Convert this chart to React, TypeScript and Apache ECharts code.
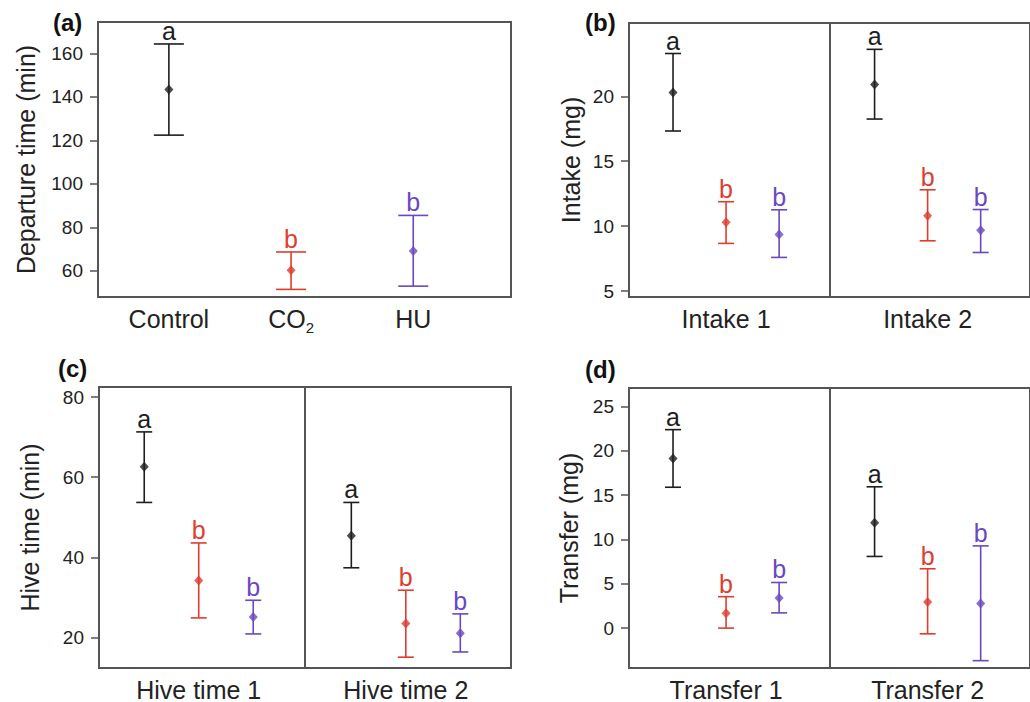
import React, { useEffect, useRef } from "react";
import * as echarts from "echarts";

// ---------- data ----------
const treatments = ["Control", "CO2", "HU"];
const treatmentColors = ["#1e1e1e", "#e03c2e", "#6a47c2"];

// (a) Departure time
const departCats = ["Control", "CO2", "HU"];
const departMean = [143.4, 60.3, 69.1];
const departLow = [122.4, 51.5, 53.0];
const departHigh = [164.3, 68.7, 85.5];
const departLetters = ["a", "b", "b"];
const departTicks = [60, 80, 100, 120, 140, 160];

// (b) Intake (Control, CO2, HU) x (Intake 1, Intake 2)
const intakeGroups = ["Intake 1", "Intake 2"];
const intakeMean = [20.3, 10.29, 9.36, 20.92, 10.8, 9.69];
const intakeLow = [17.33, 8.67, 7.59, 18.25, 8.87, 7.97];
const intakeHigh = [23.3, 11.88, 11.26, 23.62, 12.8, 11.28];
const intakeLetters = ["a", "b", "b", "a", "b", "b"];
const intakeTicks = [5, 10, 15, 20];

// (c) Hive time
const hiveGroups = ["Hive time 1", "Hive time 2"];
const hiveMean = [62.6, 34.2, 25.1, 45.4, 23.5, 21.1];
const hiveLow = [53.7, 24.9, 20.9, 37.4, 15.1, 16.4];
const hiveHigh = [71.3, 43.6, 29.3, 53.7, 31.8, 25.9];
const hiveLetters = ["a", "b", "b", "a", "b", "b"];
const hiveTicks = [20, 40, 60, 80];

// (d) Transfer
const transferGroups = ["Transfer 1", "Transfer 2"];
const transferMean = [19.15, 1.69, 3.4, 11.9, 2.96, 2.77];
const transferLow = [15.9, 0, 1.72, 8.09, -0.64, -3.67];
const transferHigh = [22.4, 3.55, 5.15, 15.95, 6.7, 9.28];
const transferLetters = ["a", "b", "b", "a", "b", "b"];
const transferTicks = [0, 5, 10, 15, 20, 25];

// category slot positions on the x scale
const slotsA = [1, 2, 3];
const slotsPaired = [1, 2, 3, 4.8, 5.8, 6.8];
const groupCenters = [2, 5.8];
const dividerX = 3.95;

const FONT = "'Liberation Sans', Arial, Helvetica, sans-serif";
const BORDER = "#555555";

function buildPanel(
  idx: number,
  slots: number[],
  mean: number[],
  low: number[],
  high: number[],
  letters: string[],
  capHalf: number,
  divider: boolean
) {
  const colorOf = (i: number) => treatmentColors[i % 3];
  const errData = slots.map((x, i) => [x, low[i], high[i], i % 3]);
  const meanData = slots.map((x, i) => ({
    value: [x, mean[i]],
    itemStyle: { color: colorOf(i) },
  }));
  const series: any[] = [
    {
      type: "custom",
      xAxisIndex: idx,
      yAxisIndex: idx,
      data: errData,
      silent: true,
      clip: false,
      renderItem: (params: any, api: any) => {
        const x = api.value(0);
        const pLo = api.coord([x, api.value(1)]);
        const pHi = api.coord([x, api.value(2)]);
        const color = treatmentColors[api.value(3)];
        const st = { stroke: color, lineWidth: 1.6 };
        return {
          type: "group",
          children: [
            { type: "line", shape: { x1: pLo[0], y1: pLo[1], x2: pHi[0], y2: pHi[1] }, style: st },
            { type: "line", shape: { x1: pHi[0] - capHalf, y1: pHi[1], x2: pHi[0] + capHalf, y2: pHi[1] }, style: st },
            { type: "line", shape: { x1: pLo[0] - capHalf, y1: pLo[1], x2: pLo[0] + capHalf, y2: pLo[1] }, style: st },
            {
              type: "text",
              x: pHi[0],
              y: pHi[1] - 0.5,
              style: {
                text: letters[params.dataIndex],
                fill: color,
                fontSize: 25,
                fontFamily: FONT,
                align: "center",
                verticalAlign: "bottom",
              },
            },
          ],
        };
      },
    },
    {
      type: "scatter",
      xAxisIndex: idx,
      yAxisIndex: idx,
      symbol: "diamond",
      symbolSize: [9, 10],
      silent: true,
      data: meanData,
      markLine: divider
        ? {
            silent: true,
            symbol: "none",
            label: { show: false },
            lineStyle: { color: BORDER, width: 2, type: "solid" },
            data: [{ xAxis: dividerX }],
          }
        : undefined,
    },
  ];
  return series;
}

function yAxisFor(idx: number, min: number, max: number, ticks: number[], name: string, gap: number) {
  return {
    type: "value",
    gridIndex: idx,
    min,
    max,
    name,
    nameLocation: "middle",
    nameGap: gap,
    nameTextStyle: { fontSize: 25, color: "#222", fontFamily: FONT },
    axisLine: { show: false },
    splitLine: { show: false },
    axisTick: { show: true, length: 8, customValues: ticks, lineStyle: { color: BORDER, width: 1.5 } },
    axisLabel: { customValues: ticks, fontSize: 19, color: "#222", fontFamily: FONT, margin: 15 },
  };
}

function xAxisFor(idx: number, min: number, max: number, values: number[], names: string[]) {
  return {
    type: "value",
    gridIndex: idx,
    min,
    max,
    axisLine: { show: false },
    axisTick: { show: false },
    splitLine: { show: false },
    axisLabel: {
      customValues: values,
      fontSize: 25,
      color: "#222",
      fontFamily: FONT,
      margin: 9,
      formatter: (v: number) => {
        const i = values.findIndex((p) => Math.abs(p - v) < 1e-6);
        const n = names[i] ?? "";
        if (n === "CO2") return "{n|CO}{s|2}";
        return n;
      },
      rich: {
        n: { fontSize: 25, color: "#222", fontFamily: FONT, verticalAlign: "top", lineHeight: 25 },
        s: { fontSize: 15, color: "#222", fontFamily: FONT, verticalAlign: "top", padding: [14, 0, 0, 0] },
      },
    },
  };
}

const gridBase = { show: true, borderColor: BORDER, borderWidth: 2, backgroundColor: "transparent" };

export default function App() {
  const ref = useRef<HTMLDivElement>(null);
  useEffect(() => {
    if (!ref.current) return;
    const chart = echarts.init(ref.current, undefined, { renderer: "svg" });
    const option: any = {
      animation: false,
      backgroundColor: "#ffffff",
      textStyle: { fontFamily: FONT },
      grid: [
        { ...gridBase, left: 98, top: 22, width: 413, height: 275 },
        { ...gridBase, left: 629, top: 23, width: 413, height: 274 },
        { ...gridBase, left: 99, top: 387, width: 412, height: 283 },
        { ...gridBase, left: 629, top: 388, width: 413, height: 281 },
      ],
      xAxis: [
        xAxisFor(0, 0.42, 3.8, slotsA, departCats),
        xAxisFor(1, 0.17, 7.73, groupCenters, intakeGroups),
        xAxisFor(2, 0.17, 7.73, groupCenters, hiveGroups),
        xAxisFor(3, 0.17, 7.73, groupCenters, transferGroups),
      ],
      yAxis: [
        yAxisFor(0, 48, 174.4, departTicks, "Departure time (min)", 60),
        yAxisFor(1, 4.54, 25.65, intakeTicks, "Intake (mg)", 46),
        yAxisFor(2, 12.4, 82.5, hiveTicks, "Hive time (min)", 57),
        yAxisFor(3, -4.5, 27.1, transferTicks, "Transfer (mg)", 48),
      ],
      series: [
        ...buildPanel(0, slotsA, departMean, departLow, departHigh, departLetters, 15, false),
        ...buildPanel(1, slotsPaired, intakeMean, intakeLow, intakeHigh, intakeLetters, 8, true),
        ...buildPanel(2, slotsPaired, hiveMean, hiveLow, hiveHigh, hiveLetters, 8, true),
        ...buildPanel(3, slotsPaired, transferMean, transferLow, transferHigh, transferLetters, 8, true),
      ],
      graphic: [
        { type: "text", left: 53, top: 10, style: { text: "(a)", fontSize: 24, fontWeight: "bold", fill: "#111", fontFamily: FONT } },
        { type: "text", left: 585, top: 10, style: { text: "(b)", fontSize: 24, fontWeight: "bold", fill: "#111", fontFamily: FONT } },
        { type: "text", left: 58, top: 356, style: { text: "(c)", fontSize: 24, fontWeight: "bold", fill: "#111", fontFamily: FONT } },
        { type: "text", left: 585, top: 357, style: { text: "(d)", fontSize: 24, fontWeight: "bold", fill: "#111", fontFamily: FONT } },
      ],
    };
    chart.setOption(option);
    return () => chart.dispose();
  }, []);
  return (
    <div
      ref={ref}
      style={{ position: "absolute", left: 0, top: 0, width: 1030, height: 702 }}
    />
  );
}
